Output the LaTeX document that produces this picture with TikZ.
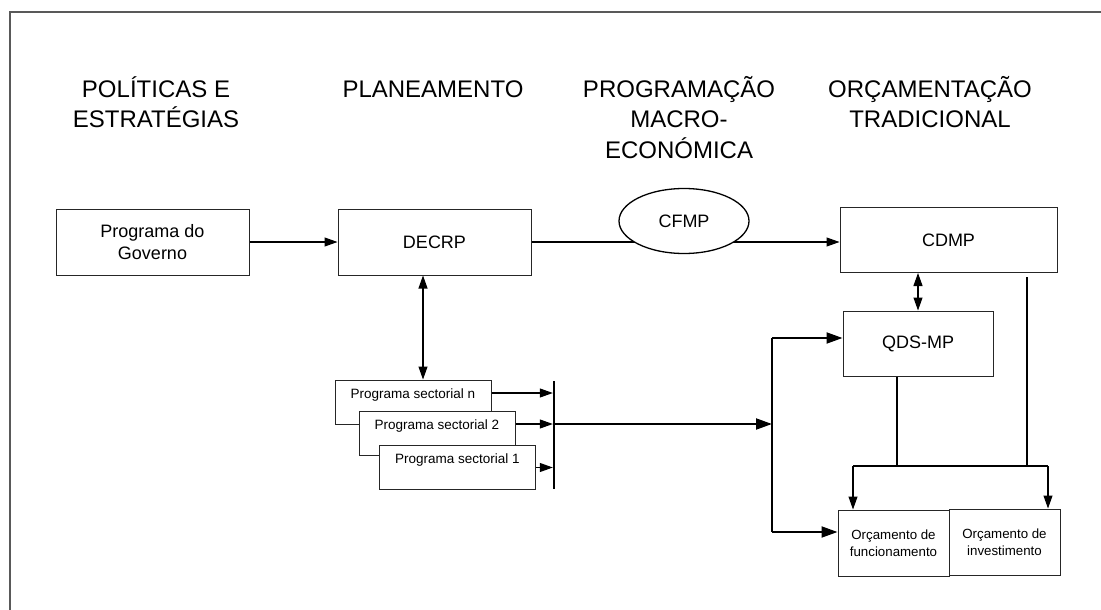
\documentclass[tikz,border=0pt]{standalone}
\usepackage{fontspec}
\setmainfont{Liberation Sans}
\usetikzlibrary{arrows.meta}
\usetikzlibrary{shapes.geometric}

\begin{document}
\begin{tikzpicture}[x=1pt,y=-1pt,
		hdr/.style={anchor=base, font=\fontsize{24}{30}\selectfont},
		box/.style={draw=black!85, line width=1pt, fill=white, inner sep=0pt, align=center, font=\fontsize{18}{22}\selectfont},
		sect/.style={draw=black!85, line width=1pt, fill=white, inner sep=0pt, minimum width=156pt, text height=18pt, text depth=26pt, font=\fontsize{13.5}{16}\selectfont},
		orc/.style={box, minimum width=111pt, minimum height=66pt, font=\fontsize{13.3}{17}\selectfont},
		arr/.style={-{Triangle[length=13pt,width=9pt]}, line width=1.1pt},
		darr/.style={{Triangle[length=13pt,width=9pt]}-{Triangle[length=13pt,width=9pt]}, line width=1.1pt},
		bus/.style={line width=2pt},
		barr/.style={-{Triangle[length=16pt,width=11pt]}, line width=2pt}]
		\useasboundingbox (0,0) rectangle (1101,610);
		\draw[line width=2pt, black!65] (10,610) -- (10,12.5) -- (1101,12.5);

		\draw (156,98) node[hdr] (polA) {POLÍTICAS E};
		\draw (156,128) node[hdr] (polB) {ESTRATÉGIAS};
		\draw (433,98) node[hdr] (plan) {PLANEAMENTO};
		\draw (679,98) node[hdr] (progA) {PROGRAMAÇÃO};
		\draw (679,128) node[hdr] (progB) {MACRO-};
		\draw (679,158) node[hdr] (progC) {ECONÓMICA};
		\draw (930,98) node[hdr] (orcA) {ORÇAMENTAÇÃO};
		\draw (930,128) node[hdr] (orcB) {TRADICIONAL};

		\draw (152.5,242) node[box, minimum width=193pt, minimum height=66pt] (gov) {Programa do\\Governo};
		\draw (434.5,242) node[box, minimum width=193pt, minimum height=66pt] (decrp) {DECRP};
		\draw (948.5,240) node[box, minimum width=217pt, minimum height=65pt] (cdmp) {CDMP};
		\draw (918,343.5) node[box, minimum width=150pt, minimum height=65pt] (qds) {QDS-MP};
		\draw (893.5,543) node[orc] (func) {Orçamento de\\funcionamento};
		\draw (1004.5,542) node[orc] (inv) {Orçamento de\\investimento};

		\draw[arr] (gov) -- (decrp);
		\draw[arr] (decrp.east) -- (decrp.east -| cdmp.west);
		\draw (684,221) node[shape=ellipse, draw, line width=1.3pt, fill=white, minimum width=130pt, minimum height=65pt, inner sep=0pt, font=\fontsize{18}{22}\selectfont] (cfmp) {CFMP};

		\draw (413,402) node[sect] (secn) {Programa sectorial n};
		\draw (437,433) node[sect] (sec2) {Programa sectorial 2};
		\draw (457.5,467.5) node[sect] (sec1) {Programa sectorial 1};
		\draw[darr] ([xshift=-11.5pt]decrp.south) -- ([xshift=10pt]secn.north);

		\draw (554,435) node[fill=black, minimum width=2pt, minimum height=108pt, inner sep=0pt] (bar) {};
		\coordinate (tapn) at ([yshift=9pt]secn.east);
		\coordinate (tap2) at ([yshift=9pt]sec2.east);
		\draw[arr] (tapn) -- (tapn -| bar.west);
		\draw[arr] (tap2) -- (tap2 -| bar.west);
		\draw[arr] (sec1.east) -- (sec1.east -| bar.west);

		\coordinate (busT) at (772,338);
		\coordinate (busB) at (772,532);
		\draw[bus] (busT) -- (busB);
		\draw[barr] (tap2 -| bar.east) -- (tap2 -| busT);
		\draw[barr] (busT) -- (busT -| qds.west);
		\draw[barr] (busB) -- (busB -| func.west);

		\draw[darr] (qds.north |- cdmp.south) -- (qds.north);
		\coordinate (jL) at (853,466);
		\coordinate (jR) at (1048,466);
		\coordinate (qdsTap) at ([xshift=-21pt]qds.south);
		\coordinate (cdmpTap) at (1027,277);
		\draw[line width=1.6pt] (qdsTap) -- (qdsTap |- jL);
		\draw[line width=1.2pt] (cdmpTap) -- (cdmpTap |- jL);
		\draw[line width=1.2pt] (jL) -- (jR);
		\draw[arr] (jL) -- (jL |- func.north);
		\draw[arr] (jR) -- (jR |- inv.north);

	\end{tikzpicture}
\end{document}
